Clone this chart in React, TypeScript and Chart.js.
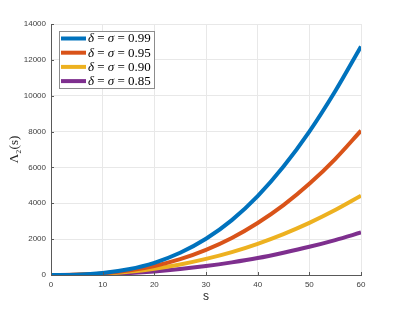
import React, { useEffect, useRef } from "react";
import { Chart, registerables } from "chart.js";

Chart.register(...registerables);

const sValues = [0, 5, 10, 15, 20, 25, 30, 35, 40, 45, 50, 55, 60];
const lambda099 = [0, 16, 110, 320, 680, 1240, 2020, 3060, 4400, 6050, 8000, 10250, 12750];
const lambda095 = [0, 15, 88, 246, 505, 884, 1403, 2066, 2900, 3896, 5085, 6467, 8050];
const lambda090 = [0, 15, 72, 183, 354, 589, 897, 1277, 1741, 2281, 2905, 3620, 4420];
const lambda085 = [0, 9, 42, 105, 200, 330, 498, 704, 945, 1243, 1572, 1948, 2370];
const seriesValues = ["0.99", "0.95", "0.90", "0.85"];
const seriesColors = ["#0072BD", "#D95319", "#EDB120", "#7E2F8E"];
const xTicksStep = 10;
const yTicksStep = 2000;

const AXIS_COLOR = "#595959";
const TICK_FONT = { family: "'Liberation Sans', Arial, sans-serif", size: 8 };

const insideTicks = {
  id: "insideTicks",
  afterDatasetsDraw(chart: any) {
    const { ctx, chartArea, scales } = chart;
    ctx.save();
    ctx.strokeStyle = AXIS_COLOR;
    ctx.lineWidth = 1;
    scales.x.ticks.forEach((t: any) => {
      const px = Math.round(scales.x.getPixelForValue(t.value)) + 0.5;
      ctx.beginPath();
      ctx.moveTo(px, chartArea.bottom);
      ctx.lineTo(px, chartArea.bottom - 3);
      ctx.stroke();
    });
    scales.y.ticks.forEach((t: any) => {
      const py = Math.round(scales.y.getPixelForValue(t.value)) + 0.5;
      ctx.beginPath();
      ctx.moveTo(chartArea.left, py);
      ctx.lineTo(chartArea.left + 3, py);
      ctx.stroke();
    });
    ctx.restore();
  },
};

const texLegend = {
  id: "texLegend",
  afterDraw(chart: any) {
    const { ctx, chartArea } = chart;
    const x0 = chartArea.left + 8;
    const y0 = chartArea.top + 7;
    const w = 96;
    const h = 58;
    ctx.save();
    ctx.fillStyle = "#ffffff";
    ctx.fillRect(x0, y0, w, h);
    ctx.strokeStyle = "#8c8c8c";
    ctx.lineWidth = 1;
    ctx.strokeRect(x0 + 0.5, y0 + 0.5, w - 1, h - 1);
    chart.data.datasets.forEach((ds: any, i: number) => {
      const cy = y0 + 7.5 + i * 14.2;
      ctx.strokeStyle = ds.borderColor;
      ctx.lineWidth = 4;
      ctx.beginPath();
      ctx.moveTo(x0 + 2, cy);
      ctx.lineTo(x0 + 27, cy);
      ctx.stroke();
      ctx.fillStyle = "#000000";
      ctx.textBaseline = "middle";
      let tx = x0 + 29;
      const parts: [string, boolean][] = [
        ["δ", true],
        [" = ", false],
        ["σ", true],
        [" = " + seriesValues[i], false],
      ];
      parts.forEach(([txt, it]) => {
        ctx.font = (it ? "italic " : "") + "13px 'Liberation Serif', serif";
        ctx.fillText(txt, tx, cy + 0.5);
        tx += ctx.measureText(txt).width;
      });
    });
    ctx.restore();
  },
};

export default function App() {
  const canvasRef = useRef<HTMLCanvasElement | null>(null);

  useEffect(() => {
    if (!canvasRef.current) return;
    const all = [lambda099, lambda095, lambda090, lambda085];
    const chart = new Chart(canvasRef.current, {
      type: "line",
      data: {
        datasets: all.map((vals, i) => ({
          label: "δ = σ = " + seriesValues[i],
          data: vals.map((v, j) => ({ x: sValues[j], y: v })),
          borderColor: seriesColors[i],
          backgroundColor: seriesColors[i],
          borderWidth: 4,
          pointRadius: 0,
          tension: 0.4,
          cubicInterpolationMode: "monotone" as const,
          fill: false,
        })),
      },
      options: {
        animation: false,
        responsive: false,
        maintainAspectRatio: false,
        layout: { padding: { left: 0, top: 24, right: 38, bottom: 0 } },
        plugins: {
          legend: { display: false },
          tooltip: { enabled: false },
        },
        scales: {
          x: {
            type: "linear",
            min: 0,
            max: 60,
            ticks: {
              stepSize: xTicksStep,
              padding: 5,
              color: "#404040",
              font: TICK_FONT,
              callback: (v: any) => String(v),
              maxRotation: 0,
            },
            grid: { color: "#e8e8e8", drawTicks: false },
            border: { display: true, color: AXIS_COLOR, width: 1 },
            title: {
              display: true,
              text: "s",
              color: "#262626",
              font: { family: "'Liberation Sans', Arial, sans-serif", size: 12 },
              padding: { top: 0, bottom: 5 },
            },
            afterFit: (scale: any) => {
              scale.height = 34;
            },
          },
          y: {
            type: "linear",
            min: 0,
            max: 14000,
            ticks: {
              stepSize: yTicksStep,
              padding: 5,
              color: "#404040",
              font: TICK_FONT,
              callback: (v: any) => String(v),
            },
            grid: { color: "#e8e8e8", drawTicks: false },
            border: { display: true, color: AXIS_COLOR, width: 1 },
            title: {
              display: true,
              text: "Λ₂(s)",
              color: "#262626",
              font: { family: "'Liberation Serif', serif", size: 13 },
              padding: { top: 7, bottom: 0 },
            },
            afterFit: (scale: any) => {
              scale.width = 51;
            },
          },
        },
      },
      plugins: [insideTicks, texLegend],
    });
    return () => chart.destroy();
  }, []);

  return (
    <div style={{ position: "absolute", left: 0, top: 0, width: 399, height: 309, background: "#fff" }}>
      <canvas ref={canvasRef} width={399} height={309} />
    </div>
  );
}
